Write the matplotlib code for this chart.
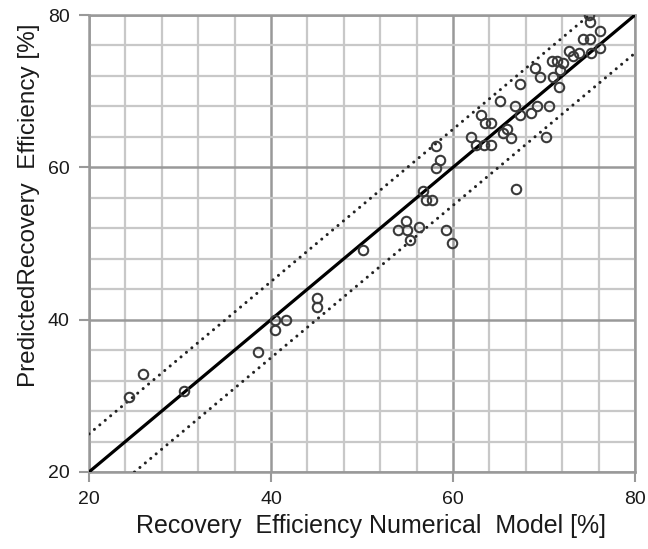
import matplotlib
matplotlib.use("Agg")
import matplotlib.pyplot as plt
from matplotlib.ticker import MultipleLocator

plt.rcParams['font.family'] = ['Liberation Sans', 'DejaVu Sans']

# numerical model vs predicted recovery efficiency [%]
eff_numerico = [24.4, 25.9, 30.4, 38.6, 40.4, 40.4, 41.7, 45.1, 45.1, 50.1,
                54.0, 54.8, 54.9, 55.3, 56.3, 56.7, 57.0, 57.7, 58.1, 58.6,
                58.1, 59.2, 59.9, 62.0, 62.5, 63.4, 64.2, 63.1, 63.5, 64.2,
                65.2, 65.5, 65.9, 66.4, 66.8, 66.9, 67.4, 67.4, 68.6, 69.2,
                70.5, 70.2, 69.0, 69.6, 70.9, 71.4, 71.0, 71.8, 72.1, 71.6,
                72.8, 73.2, 73.9, 74.3, 75.1, 75.2, 76.2, 76.2, 74.9, 75.1]
eff_predetto = [29.9, 32.9, 30.7, 35.8, 39.9, 38.7, 39.9, 42.9, 41.7, 49.2,
                51.8, 53.0, 51.8, 50.5, 52.2, 56.9, 55.7, 55.7, 62.8, 61.0,
                59.9, 51.8, 50.1, 64.0, 62.9, 62.9, 62.9, 66.9, 65.8, 65.8,
                68.7, 64.5, 65.0, 63.9, 68.0, 57.2, 66.9, 70.9, 67.1, 68.0,
                68.0, 64.0, 73.0, 71.9, 74.0, 73.9, 71.9, 72.8, 73.7, 70.6,
                75.3, 74.6, 75.0, 76.8, 76.8, 75.0, 75.7, 77.9, 80.0, 79.1]

# linea 1:1 e banda +/- 5 %
linea_x = [20, 80]
linea_y = [20, 80]
banda_sup_x = [20, 75]
banda_sup_y = [25, 80]
banda_inf_x = [25, 80]
banda_inf_y = [20, 75]

fig = plt.figure(figsize=(6.48, 5.49), dpi=100)
ax = fig.add_axes([89/648, 1 - 472/549, 546/648, 457/549])

ax.plot(linea_x, linea_y, color='black', lw=2.3, zorder=3)
for bx, by in [(banda_sup_x, banda_sup_y), (banda_inf_x, banda_inf_y)]:
    ax.plot(bx, by, color='#222222', lw=2.2, linestyle=(0, (0.01, 2.3)),
            dash_capstyle='round', zorder=3)

ax.plot(eff_numerico, eff_predetto, linestyle='none', marker='o', ms=6.8,
        mfc='none', mec='#3a3a3a', mew=1.5, zorder=4)

ax.set_xlim(20, 80)
ax.set_ylim(20, 80)
ax.xaxis.set_major_locator(MultipleLocator(20))
ax.yaxis.set_major_locator(MultipleLocator(20))
ax.xaxis.set_minor_locator(MultipleLocator(4))
ax.yaxis.set_minor_locator(MultipleLocator(4))
ax.grid(True, which='minor', color='#c8c8c8', lw=1.6, zorder=0)
ax.grid(True, which='major', color='#999999', lw=1.8, zorder=1)
ax.set_axisbelow(True)

for lato in ax.spines.values():
    lato.set_color('#999999')
    lato.set_linewidth(1.8)

ax.tick_params(which='major', length=7, width=1.5, color='#999999',
               labelsize=14, pad=7, labelcolor='#1a1a1a')
ax.tick_params(which='minor', length=0)

ax.set_xlabel("Recovery  Efficiency Numerical  Model [%]", fontsize=18,
              color='#1a1a1a')
ax.set_ylabel("PredictedRecovery  Efficiency [%]", fontsize=17.5,
              color='#1a1a1a')
ax.xaxis.set_label_coords((371 - 89) / 546, -(514 - 472) / 457)
ax.yaxis.set_label_coords(-(89 - 40) / 546, (472 - 205) / 457)

fig.savefig("out.png", dpi=100)
